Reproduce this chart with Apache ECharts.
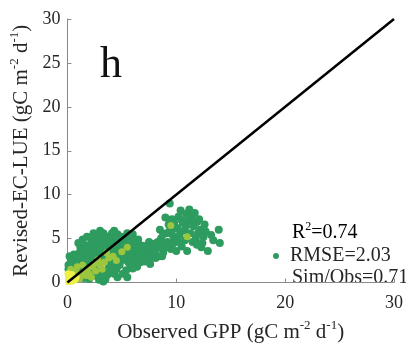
<!DOCTYPE html>
<html>
<head>
<meta charset="utf-8">
<script src="https://cdn.jsdelivr.net/npm/echarts@6/dist/echarts.min.js"></script>
<style>html,body{margin:0;padding:0;background:#fff;}#c{width:406px;height:348px;}</style>
</head>
<body>
<div id="c"></div>
<script>
// Observed GPP (x) vs Revised-EC-LUE simulated GPP (y)
const greenPoints = [
  [0.1,2.0],[0.2,3.0],[0.1,1.5],[0.4,2.4],[0.7,2.0],[0.5,1.0],[0.8,1.4],[0.3,2.7],[0.9,2.6],[0.6,3.2],
  [1.2,2.2],[1.5,3.0],[1.4,4.9],[1.7,4.2],[1.1,3.4],[1.9,3.6],[1.3,1.6],[1.6,2.5],[1.8,2.0],[1.9,0.9],[1.2,4.0],[1.5,0.5],[1.8,5.2],
  [2.1,3.0],[2.4,5.6],[2.2,4.6],[2.6,4.0],[2.8,3.4],[2.3,2.4],[2.7,1.8],[2.9,5.0],[2.5,0.8],[2.1,1.4],[2.9,0.3],[2.4,3.7],[2.6,5.3],[2.2,5.1],
  [3.1,4.4],[3.3,5.6],[3.5,4.9],[3.2,3.0],[3.6,2.4],[3.8,3.9],[3.4,1.2],[3.7,0.9],[3.3,0.1],[3.9,5.3],[3.1,2.6],[3.5,3.6],[3.8,1.8],[3.0,5.9],[3.6,4.3],
  [4.1,4.8],[4.3,5.9],[4.6,5.5],[4.4,3.6],[4.8,4.2],[4.2,2.2],[4.5,1.5],[4.9,2.8],[4.0,3.3],[4.7,3.2],[4.3,1.0],[4.6,0.6],[4.9,5.0],[4.1,5.6],[4.4,4.6],
  [5.1,4.5],[5.3,3.6],[5.5,5.6],[5.7,4.8],[5.2,2.6],[5.6,3.0],[5.8,2.0],[5.4,1.4],[5.9,3.9],[5.0,5.2],[5.5,0.6],[5.8,5.3],[5.3,4.1],[5.6,2.3],
  [6.1,4.4],[6.3,3.4],[6.5,4.9],[6.8,4.2],[6.2,2.6],[6.6,2.9],[6.9,3.7],[6.4,1.8],[6.0,5.5],[6.7,2.3],[6.3,4.0],[6.1,3.0],
  [7.2,3.2],[7.5,4.6],[7.8,3.8],[7.1,2.4],[7.6,2.1],[7.4,3.6],[7.9,2.9],[7.3,4.2],[7.7,3.3],
  [8.2,3.9],[8.5,6.0],[8.8,3.4],[8.3,4.6],[8.6,5.0],[8.9,4.3],[8.1,2.8],[8.7,3.0],
  [9.1,5.6],[9.4,9.0],[9.3,6.6],[9.6,7.2],[9.8,5.1],[9.2,4.6],[9.5,3.8],[9.9,6.2],[9.0,7.4],[9.7,4.4],[9.4,5.9],
  [10.2,7.5],[10.4,8.2],[10.6,6.8],[10.3,5.4],[10.8,4.8],[10.1,6.2],[10.5,4.1],[10.9,7.8],[10.7,5.9],[10.0,3.6],
  [11.2,8.3],[11.0,3.6],[11.4,7.5],[11.6,6.4],[11.3,5.6],[11.8,5.0],[11.1,7.0],[11.5,4.6],[11.9,6.9],[11.7,7.9],
  [12.2,6.0],[12.5,5.2],[12.9,3.6],[12.4,4.5],[12.7,5.8],[12.1,7.2],[13.2,5.4],[13.9,6.0],[14.0,4.5],[12.6,6.6],[13.4,4.8],
  [0.2,1.2],[0.5,2.0],[0.8,3.0],[1.0,2.8],[1.3,3.6],[1.6,3.8],[1.0,4.5],[2.0,4.2],[2.3,4.0],[2.7,4.6],[2.0,2.6],[2.5,3.0],
  [3.0,3.6],[3.2,4.8],[3.4,4.2],[3.7,5.0],[3.9,4.6],[4.0,2.5],[4.2,4.0],[4.5,4.0],[4.7,4.7],[4.8,3.6],[5.0,4.0],[5.2,5.0],
  [5.4,3.0],[5.6,4.4],[5.9,4.6],[6.0,3.6],[6.2,4.8],[6.4,3.0],[6.6,3.6],[6.8,2.6],[7.0,3.0],[7.1,4.0],[7.4,2.7],[7.6,3.9],
  [8.0,3.4],[8.4,3.0],[8.0,4.4],[3.0,1.0],[3.5,0.4],[4.0,1.4],[4.8,2.0],[5.1,1.0],[6.0,1.6],[2.8,0.9],[2.0,0.4],[9.0,4.0],
  [9.6,5.5],[10.2,4.6],[10.5,7.1],[11.5,7.0],[12.0,5.6],[12.3,4.0],[11.9,4.3],[10.9,6.4],[9.8,6.8],[8.8,5.5],[8.6,4.0]
];
const lightGreenPoints = [
  [0.3,1.5],[0.6,1.2],[1.0,1.0],[1.2,0.7],[1.5,1.2],[0.9,1.8],[1.8,1.5],[2.0,1.0],[2.3,1.8],[1.4,2.0],[2.6,1.3],[3.0,2.0],
  [2.8,2.6],[3.4,2.3],[1.1,0.4],[2.2,0.6],[3.8,2.8],[4.2,3.0],[2.5,2.2],[1.7,0.8],[3.2,1.5],[4.5,2.5],[5.0,3.5],[3.6,3.4],
  [5.5,4.0],[9.5,6.5],[11.0,5.2]
];
const yellowPoints = [
  [0.1,0.1],[0.2,0.3],[0.3,0.1],[0.1,0.5],[0.4,0.4],[0.2,0.8],[0.5,0.2],[0.3,0.6],[0.6,0.5],[0.1,0.2],[0.7,0.3],[0.05,1.0],[0.4,0.9],[0.8,0.6]
];
const oneToOne = [[0,0],[30,30]];
const xTicks = {min:0, max:30, interval:10};
const yTicks = {min:0, max:30, interval:5};
const statR2 = '0.74', statRMSE = '2.03', statSimObs = '0.71';

const SERIF = 'Liberation Serif';
const TXT = '#262626';
const AX = '#8a8a8a';
const supRich = {
  n: {fontFamily: SERIF, fontSize: 21, color: TXT, lineHeight: 26, verticalAlign: 'middle'},
  s: {fontFamily: SERIF, fontSize: 13, color: TXT, lineHeight: 13, verticalAlign: 'top'}
};
const chart = echarts.init(document.getElementById('c'), null, {renderer: 'canvas'});
chart.setOption({
  animation: false,
  backgroundColor: '#fff',
  grid: {left: 67, right: 12, top: 19, bottom: 61, containLabel: false},
  legend: {
    data: ['RMSE=' + statRMSE],
    left: 268, top: 241,
    icon: 'circle', itemWidth: 18, itemHeight: 6,
    textStyle: {fontFamily: SERIF, fontSize: 20, color: TXT},
    selectedMode: false
  },
  xAxis: {
    type: 'value', min: xTicks.min, max: xTicks.max, interval: xTicks.interval,
    name: '{n|Observed GPP (gC m}{s|-2}{n| d}{s|-1}{n|)}',
    nameLocation: 'middle', nameGap: 37,
    nameTextStyle: {rich: supRich},
    axisLine: {show: true, lineStyle: {color: AX, width: 1}},
    axisTick: {show: true, inside: true, length: 4, lineStyle: {color: AX}},
    axisLabel: {fontFamily: SERIF, fontSize: 18, color: TXT, margin: 12},
    splitLine: {show: false}
  },
  yAxis: {
    type: 'value', min: yTicks.min, max: yTicks.max, interval: yTicks.interval,
    name: '{n|Revised-EC-LUE (gC m}{s|-2}{n| d}{s|-1}{n|)}',
    nameLocation: 'middle', nameGap: 28,
    nameTextStyle: {rich: supRich},
    axisLine: {show: true, lineStyle: {color: AX, width: 1}},
    axisTick: {show: true, inside: true, length: 4, lineStyle: {color: AX}},
    axisLabel: {fontFamily: SERIF, fontSize: 18, color: TXT, margin: 7},
    splitLine: {show: false}
  },
  graphic: [
    {type: 'text', left: 100, top: 43, style: {text: 'h', font: '44px "Liberation Serif"', fill: '#111'}},
    {type: 'text', x: 292, y: 233, style: {
      text: '{n|R}{s|2}{n|=' + statR2 + '}', verticalAlign: 'middle',
      rich: {n: {fontFamily: SERIF, fontSize: 20, color: TXT, lineHeight: 24}, s: {fontFamily: SERIF, fontSize: 12, color: TXT, lineHeight: 12, verticalAlign: 'top'}}
    }},
    {type: 'text', x: 292, y: 278, style: {
      text: 'Sim/Obs=' + statSimObs, verticalAlign: 'middle',
      font: '20px "Liberation Serif"', fill: TXT
    }}
  ],
  series: [
    {name: 'RMSE=' + statRMSE, type: 'scatter', data: greenPoints, symbolSize: 8,
     itemStyle: {color: '#2e9b5f', opacity: 1}, z: 2},
    {name: 'lg', type: 'scatter', data: lightGreenPoints, symbolSize: 7,
     itemStyle: {color: '#9cc63e', opacity: 1}, z: 3},
    {name: 'yl', type: 'scatter', data: yellowPoints, symbolSize: 7,
     itemStyle: {color: '#eef046', opacity: 1}, z: 4},
    {name: '1:1', type: 'line', data: oneToOne, symbol: 'none',
     lineStyle: {color: '#000', width: 2.5}, z: 5}
  ]
});
</script>
</body>
</html>
